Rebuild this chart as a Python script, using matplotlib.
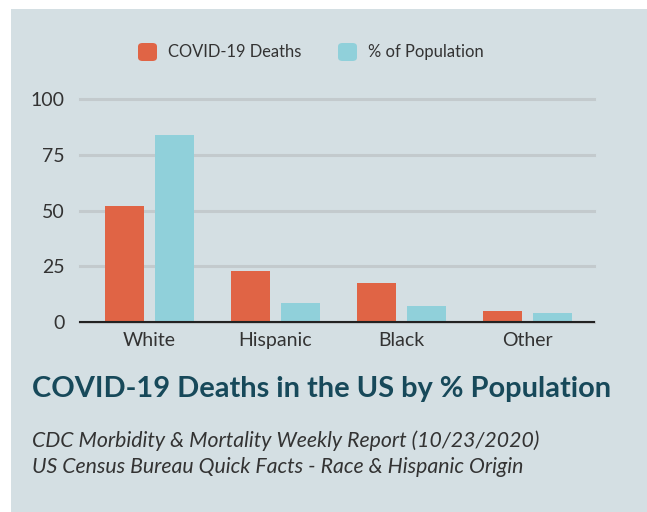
import matplotlib.pyplot as plt
from matplotlib.patches import Rectangle, FancyBboxPatch
import numpy as np

categories = ["White", "Hispanic", "Black", "Other"]
covid_deaths = [52, 23, 17.6, 5.1]
pct_population = [84, 8.3, 7.0, 3.9]
y_ticks = [0, 25, 50, 75, 100]

ORANGE = "#e06445"
CYAN = "#90d0da"
PANEL = "#d4dfe3"
GRID = "#c3cacd"
TITLE = "#17495a"
TEXT = "#333333"

plt.rcParams["font.family"] = ["Lato", "DejaVu Sans"]

W, H = 647, 512
fig = plt.figure(figsize=(W / 100, H / 100), dpi=100)
fig.patch.set_facecolor("white")

# light panel behind everything
fig.patches.append(Rectangle((11 / W, -0.05), 1.1, 1.05 - 9 / H, transform=fig.transFigure,
                             facecolor=PANEL, edgecolor="none", zorder=-5))

ax = fig.add_axes([80 / W, 1 - 322 / H, 514 / W, 223 / H])
ax.set_facecolor("none")
ax.set_zorder(2)

x = np.arange(len(categories))
bw = 0.31
off = 0.2
ax.bar(x - off, covid_deaths, bw, color=ORANGE, zorder=3)
ax.bar(x + off, pct_population, bw, color=CYAN, zorder=3)

ax.set_xlim(-0.55, 3.53)
ax.set_ylim(0, 100)
ax.set_yticks(y_ticks)
ax.set_xticks(x)
ax.set_xticklabels(categories)
ax.set_axisbelow(True)
ax.yaxis.grid(True, color=GRID, linewidth=2.2)
for gl in ax.get_ygridlines():
    gl.set_clip_on(False)
ax.tick_params(length=0, labelsize=14, colors=TEXT)
ax.tick_params(axis="y", pad=11)
ax.tick_params(axis="x", pad=7)
for s in ["top", "right", "left"]:
    ax.spines[s].set_visible(False)
ax.spines["bottom"].set_color("#222222")
ax.spines["bottom"].set_linewidth(1.5)
ax.spines["bottom"].set_zorder(4)

# legend drawn by hand with rounded swatches
def swatch(x0, color):
    fig.patches.append(FancyBboxPatch((x0 / W, 1 - 61 / H), 19 / W, 18 / H,
                                      boxstyle="round,pad=0,rounding_size=0.007",
                                      transform=fig.transFigure, facecolor=color,
                                      edgecolor="none", zorder=2))

swatch(138, ORANGE)
fig.text(168 / W, 1 - 52 / H, "COVID-19 Deaths", fontsize=11.9, color=TEXT, va="center")
swatch(338, CYAN)
fig.text(368 / W, 1 - 52 / H, "% of Population", fontsize=11.9, color=TEXT, va="center")

fig.text(32 / W, 1 - 389 / H, "COVID-19 Deaths in the US by % Population",
         fontsize=20.9, fontweight="bold", color=TITLE, va="center")
fig.text(32 / W, 1 - 441 / H, "CDC Morbidity & Mortality Weekly Report (10/23/2020)",
         fontsize=15.3, style="italic", color=TEXT, va="center")
fig.text(32 / W, 1 - 467 / H, "US Census Bureau Quick Facts - Race & Hispanic Origin",
         fontsize=15.3, style="italic", color=TEXT, va="center")

fig.savefig("out.png", dpi=100)
